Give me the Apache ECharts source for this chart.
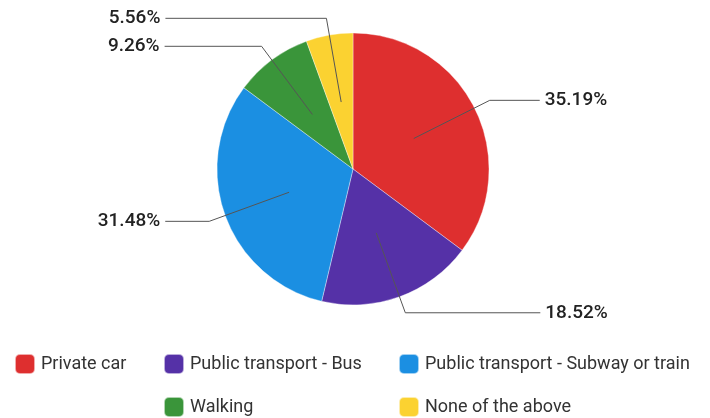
<!DOCTYPE html>
<html>
<head>
<meta charset="utf-8">
<script src="https://cdn.jsdelivr.net/npm/echarts@6/dist/echarts.min.js"></script>
<style>
  html, body { margin: 0; padding: 0; background: #fff; }
  #chart { width: 710px; height: 418px; }
</style>
</head>
<body>
<div id="chart"></div>
<script>
// Commute mode shares (percent)
const categories = [
  'Private car',
  'Public transport - Bus',
  'Public transport - Subway or train',
  'Walking',
  'None of the above'
];
const shares = [35.19, 18.52, 31.48, 9.26, 5.56];
const colors = ['#de2f2f', '#5531a7', '#1b8fe2', '#3a953a', '#fbd231'];

// Horizontal run of each leader line so the ends line up on each side
const leaderRun = [50, 135, 44, 97, 161];

// Legend placement: one legend block per entry (grid-like rows)
const legendSlots = [
  { left: 14, top: 353 },
  { left: 163, top: 353 },
  { left: 398, top: 353 },
  { left: 163, top: 396 },
  { left: 398, top: 396 }
];

const chart = echarts.init(document.getElementById('chart'), null, { renderer: 'canvas' });

const center = [353, 169];

const legends = categories.map((name, i) => ({
  data: [name],
  left: legendSlots[i].left,
  top: legendSlots[i].top,
  padding: 0,
  itemWidth: 20,
  itemHeight: 20,
  icon: 'roundRect',
  selectedMode: false,
  textStyle: { fontFamily: 'Roboto', fontSize: 18, color: '#333', padding: [0, 0, 0, 1] }
}));

chart.setOption({
  animation: false,
  legend: legends,
  series: [
    {
      name: 'Mode',
      type: 'pie',
      center: center,
      radius: 136,
      startAngle: 90,
      clockwise: true,
      label: { show: false },
      labelLine: { show: false },
      itemStyle: { borderColor: 'rgba(255,255,255,0.6)', borderWidth: 0.6 },
      emphasis: { disabled: true },
      data: categories.map((name, i) => ({
        name: name,
        value: shares[i],
        itemStyle: { color: colors[i] }
      }))
    },
    {
      // Transparent inner ring that carries the percentage labels;
      // its leader lines start halfway inside each slice.
      name: 'Labels',
      type: 'pie',
      center: center,
      radius: 68,
      startAngle: 90,
      clockwise: true,
      silent: true,
      z: 5,
      avoidLabelOverlap: false,
      itemStyle: { color: 'rgba(0,0,0,0)' },
      emphasis: { disabled: true },
      label: {
        show: true,
        position: 'outside',
        formatter: (p) => shares[p.dataIndex].toFixed(2) + '%',
        fontFamily: 'Roboto',
        fontSize: 19,
        fontWeight: 500,
        color: '#222',
        distanceToLabelLine: 5
      },
      labelLine: {
        show: true,
        length: 85,
        lineStyle: { color: '#555', width: 1 }
      },
      data: categories.map((name, i) => ({
        name: name,
        value: shares[i],
        labelLine: { length2: leaderRun[i] }
      }))
    }
  ]
});
</script>
</body>
</html>
